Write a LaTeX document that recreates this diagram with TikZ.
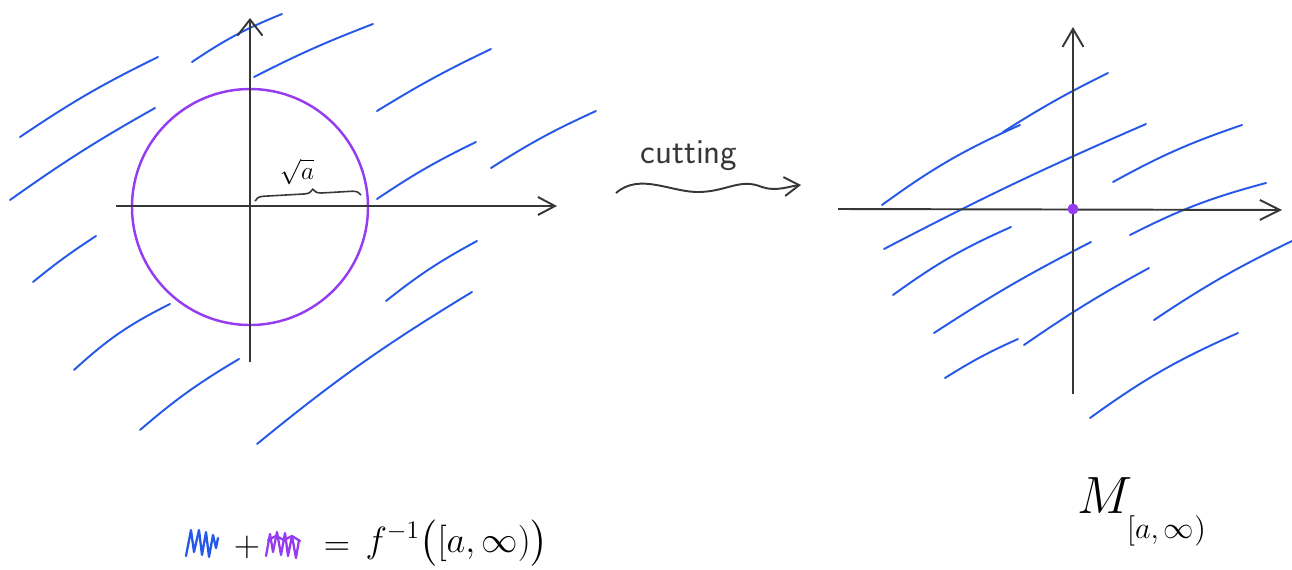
\documentclass[tikz,border=0pt]{standalone}
\usepackage{amsmath, amssymb}
\usepackage{tikz}
\usetikzlibrary{calc, positioning, arrows.meta, decorations.pathreplacing}
\usepackage{xcolor}
\definecolor{hatchblue}{RGB}{38, 88, 232}
\definecolor{ringpurple}{RGB}{150, 60, 240}
\definecolor{axisgray}{RGB}{55, 55, 55}

\tikzset{
  axis/.style={axisgray, line width=1.1pt},
  chevron/.style 2 args={-{Straight Barb[length=#1, width=#2]}},
  hatch/.style={hatchblue, line width=1.1pt, line cap=round},
  scribble/.style={line width=1.3pt, line cap=round, line join=round},
}

\begin{document}
\begin{tikzpicture}[x=0.02cm, y=-0.02cm]
    \useasboundingbox (0,0) rectangle (1292,569);
    % left plane
    \coordinate (LO) at (250,207);
    \coordinate (LW) at (116,206);
    \coordinate (LE) at (557,206);
    \coordinate (LS) at (250,362);
    \coordinate (LN) at (250,18);
    \foreach \p/\q/\b in {{20,137}/{158,57}/4, {10,200}/{155,108}/3, {192,62}/{282,14}/6,
        {254,77}/{373,24}/3, {377,111}/{491,49}/3, {491,168}/{596,111}/4,
        {377,199}/{476,142}/4, {33,282}/{96,236}/3, {74,370}/{170,304}/8,
        {386,301}/{477,241}/5, {140,430}/{239,359}/5, {257,444}/{472,292}/4}
        \draw[hatch] (\p) to[bend left=\b] (\q);
    \draw[ringpurple, line width=1.4pt] (LO) circle (118);
    \draw[axis, chevron={3.4mm}{3.6mm}] (LW) -- (LE);
    \draw[axis, chevron={3.2mm}{5mm}] (LS) -- (LN);
    \draw[axisgray, line width=0.9pt, decorate,
          decoration={brace, amplitude=0.17cm, aspect=0.55}] (255,201) -- (361,195);
    \node[font=\fontsize{14}{16}\selectfont] (root) at (297,172) {$\sqrt{a}$};

    % cutting arrow
    \coordinate (CA) at (616,193);
    \coordinate (CB) at (801,185);
    \draw[axisgray, line width=1.1pt, chevron={3mm}{3.8mm}]
        (CA) .. controls (640,172) and (672,193) .. (700,192)
             .. controls (728,191) and (740,178) .. (762,187)
             .. controls (776,192) and (790,186) .. (CB);
    \node[font=\sffamily\fontsize{20}{24}\selectfont, axisgray] (cut) at (689,156) {cutting};

    % right plane
    \coordinate (RO) at (1073,209);
    \coordinate (RW) at (838,209);
    \coordinate (RE) at (1282,210);
    \coordinate (RS) at (1073,394);
    \coordinate (RN) at (1073,27);
    \foreach \p/\q/\b in {{882,205}/{1020,125}/6, {1003,132}/{1108,73}/3,
        {884,249}/{1146,124}/2, {1113,182}/{1242,125}/5, {1130,235}/{1266,183}/6,
        {893,295}/{1011,227}/6, {934,333}/{1091,242}/3, {1024,345}/{1149,268}/3,
        {1154,320}/{1292,241}/4, {945,378}/{1018,339}/4, {1090,418}/{1238,333}/6}
        \draw[hatch] (\p) to[bend left=\b] (\q);
    \draw[axis, chevron={4mm}{4mm}] (RW) -- (RE);
    \draw[axis, chevron={3.6mm}{4.2mm}] (RS) -- (RN);
    \fill[ringpurple] (RO) circle (5.5);

    % legend
    \draw[hatchblue, scribble] (186,556) -- (191,530) -- (194,552) -- (199,530) -- (202,555)
        -- (206,532) -- (209,557) -- (213,535) -- (216,548) -- (218,538);
    \draw[ringpurple, scribble] (266,556) -- (270,534) -- (273,552) -- (277,532) -- (281,555)
        -- (285,533) -- (288,556) -- (292,536) -- (296,558) -- (299,540);
    \draw[ringpurple, scribble] (268,540) -- (276,536) -- (284,540) -- (292,536) -- (300,541);
    \node[font=\fontsize{22}{26}\selectfont] (plus) at (247,547) {$+$};
    \node[font=\fontsize{22}{26}\selectfont] (eq) at (337,549) {$=$};
    \node[font=\fontsize{22}{26}\selectfont] (pre) at (457,543) {$f^{-1}\bigl([a,\infty)\bigr)$};
    \node[font=\fontsize{24.88}{28}\selectfont, scale=1.2] (sub) at (1142,512)
        {$M_{\lower8pt\hbox{\fontsize{14}{16}\selectfont$[a,\infty)$}}$};
\end{tikzpicture}
\end{document}
